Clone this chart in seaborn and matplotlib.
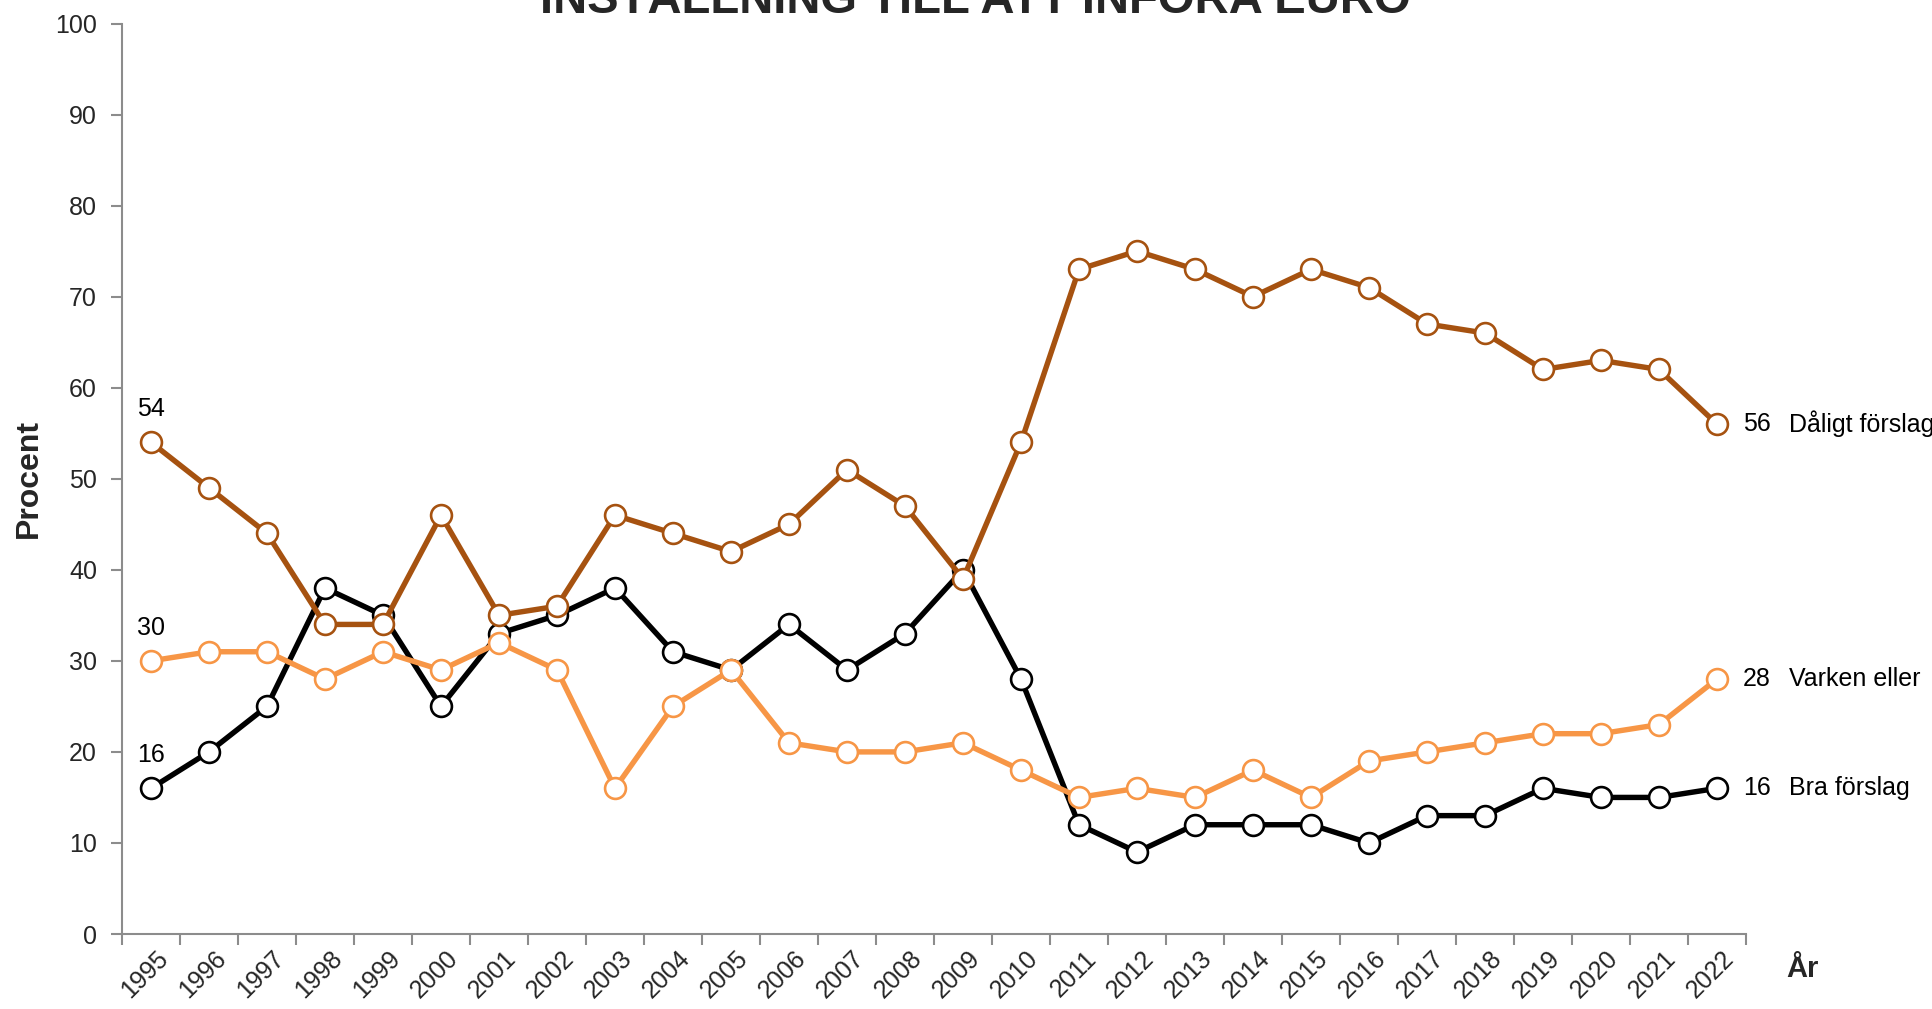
import matplotlib
matplotlib.use("Agg")
import matplotlib.pyplot as plt
import matplotlib.transforms as mtransforms
import seaborn as sns
import pandas as pd

years = list(range(1995, 2023))
year_labels = [str(y) for y in years]

bra = [16, 20, 25, 38, 35, 25, 33, 35, 38, 31, 29, 34, 29, 33, 40, 28,
       12, 9, 12, 12, 12, 10, 13, 13, 16, 15, 15, 16]
daligt = [54, 49, 44, 34, 34, 46, 35, 36, 46, 44, 42, 45, 51, 47, 39, 54,
          73, 75, 73, 70, 73, 71, 67, 66, 62, 63, 62, 56]
varken = [30, 31, 31, 28, 31, 29, 32, 29, 16, 25, 29, 21, 20, 20, 21, 18,
          15, 16, 15, 18, 15, 19, 20, 21, 22, 22, 23, 28]

series_names = ["Bra förslag", "Dåligt förslag", "Varken eller"]
series_values = [bra, daligt, varken]
series_colors = ["#000000", "#A65210", "#F79646"]

title = "INSTÄLLNING TILL ATT INFÖRA EURO"
y_label = "Procent"
x_label = "År"

FS = 18

sns.set_theme(style="white")
plt.rcParams["font.family"] = ["Liberation Sans", "DejaVu Sans"]

fig = plt.figure(figsize=(19.32, 10.09), dpi=100)
ax = fig.add_axes([122 / 1932, 1 - 934 / 1009, (1746 - 122) / 1932, (934 - 23.5) / 1009])

idx = list(range(len(years)))
for name, vals, col in zip(series_names, series_values, series_colors):
    df = pd.DataFrame({"i": idx, "v": vals})
    sns.lineplot(data=df, x="i", y="v", ax=ax, color=col, linewidth=3.9,
                 marker="o", markersize=15, markerfacecolor="white",
                 markeredgecolor=col, markeredgewidth=1.9, clip_on=False,
                 legend=False)

    ax.annotate(str(vals[0]), xy=(0, vals[0]), xytext=(0, 24),
                textcoords="offset points", ha="center", va="center",
                fontsize=FS, color="black")
    ax.annotate(str(vals[-1]), xy=(idx[-1], vals[-1]), xytext=(18.5, 0),
                textcoords="offset points", ha="left", va="center",
                fontsize=FS, color="black", annotation_clip=False)
    ax.annotate(name, xy=(idx[-1], vals[-1]), xytext=(52, 0),
                textcoords="offset points", ha="left", va="center",
                fontsize=FS, color="black", annotation_clip=False)

ax.set_xlim(-0.5, len(years) - 0.5)
ax.set_ylim(0, 100)
ax.set_yticks(range(0, 101, 10))
ax.set_yticklabels([str(v) for v in range(0, 101, 10)], fontsize=FS)

ax.set_xticks([i - 0.5 for i in range(len(years) + 1)])
ax.set_xticklabels([])
ax.set_xticks(idx, minor=True)
ax.set_xticklabels(year_labels, minor=True, rotation=45, ha="right",
                   va="top", rotation_mode="anchor", fontsize=FS)
ax.tick_params(axis="x", which="minor", length=0, pad=9)
offset = mtransforms.ScaledTranslation(5 / 100, 0, fig.dpi_scale_trans)
for lab in ax.get_xticklabels(minor=True):
    lab.set_transform(lab.get_transform() + offset)

ax.tick_params(axis="x", which="major", length=8, width=1.5, color="#8C8C8C",
               direction="out", bottom=True)
ax.tick_params(axis="y", length=8, width=1.5, color="#8C8C8C", direction="out",
               left=True, pad=10, labelsize=FS)

sns.despine(ax=ax)
for sp in ["left", "bottom"]:
    ax.spines[sp].set_color("#8C8C8C")
    ax.spines[sp].set_linewidth(1.5)
ax.grid(False)
ax.set_xlabel("")
ax.set_ylabel("")

fig.text(29 / 1932, 1 - 478 / 1009, y_label, rotation=90, ha="center",
         va="center", fontsize=23, fontweight="bold")
fig.text(1802 / 1932, 1 - 977 / 1009, x_label, ha="center", va="baseline",
         fontsize=21, fontweight="bold")
fig.text(975 / 1932, 1 - 13 / 1009, title, ha="center", va="baseline",
         fontsize=34, fontweight="bold",
         family=["Liberation Sans Narrow", "Liberation Sans", "DejaVu Sans"])

fig.savefig("out.png", dpi=100)
